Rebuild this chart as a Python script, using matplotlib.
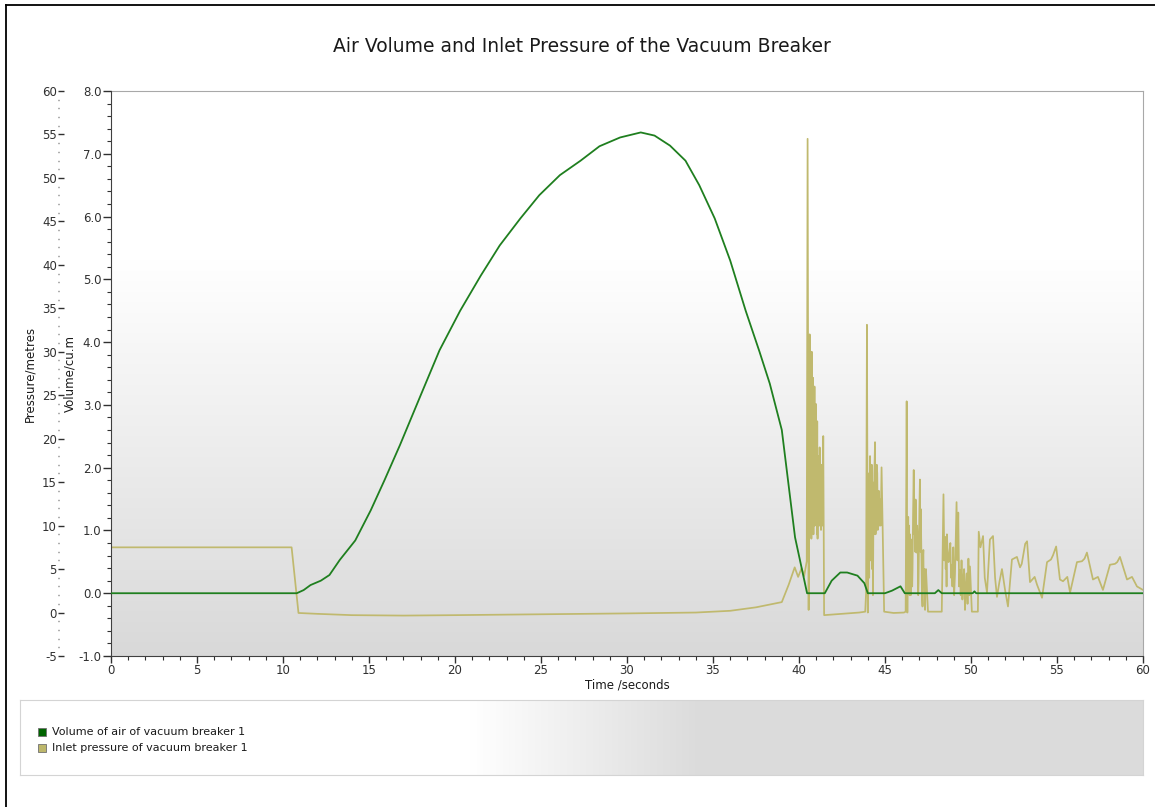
import numpy as np
import matplotlib
matplotlib.use("Agg")
import matplotlib.pyplot as plt
from matplotlib.lines import Line2D
from matplotlib.patches import Rectangle
from matplotlib.ticker import MultipleLocator, FormatStrFormatter

# volume of air (cu.m) over time (s)
vol_t = [0, 10.8, 11.2, 11.6, 12.2, 12.7, 13.3, 14.2, 15.1, 15.9, 16.8, 18.0, 19.1,
         20.3, 21.5, 22.6, 23.8, 24.9, 26.1, 27.3, 28.4, 29.6, 30.8, 31.6, 32.5,
         33.4, 34.2, 35.1, 36.0, 36.9, 37.7, 38.3, 39.0, 39.77, 40.47,
         41.5, 41.9, 42.4, 42.8, 43.4, 43.8, 44.0,
         45.0, 45.4, 45.9, 46.15, 47.9, 48.1, 48.3, 50.1, 50.2, 50.3, 60.0]
vol_v = [0, 0, 0.05, 0.13, 0.2, 0.29, 0.53, 0.84, 1.32, 1.8, 2.36, 3.15, 3.87,
         4.5, 5.06, 5.54, 5.97, 6.34, 6.66, 6.89, 7.12, 7.26, 7.34, 7.29, 7.13,
         6.89, 6.5, 5.97, 5.3, 4.5, 3.85, 3.34, 2.6, 0.89, 0,
         0, 0.2, 0.33, 0.33, 0.28, 0.16, 0,
         0, 0.04, 0.11, 0, 0, 0.05, 0, 0, 0.03, 0, 0]

# inlet pressure (m) over time (s)
pres_t = [0, 10.5, 10.9, 12, 14, 17, 20, 25, 30, 34, 36, 37.5, 38.5, 39.0,
          39.4, 39.75, 39.95, 40.15, 40.3, 40.45, 40.5, 40.56, 40.6, 40.62, 40.64,
          40.66, 40.68, 40.7, 40.72, 40.74, 40.76, 40.78, 40.8, 40.82, 40.84, 40.86,
          40.88, 40.9, 40.92, 40.94, 40.96, 40.98, 41.0, 41.02, 41.04, 41.06, 41.08,
          41.1, 41.13, 41.15, 41.18, 41.2, 41.23, 41.25, 41.28, 41.3, 41.33, 41.35,
          41.38, 41.41, 41.46, 42.5, 43.5, 43.85, 43.9, 43.95,
          44.0, 44.03, 44.05, 44.08, 44.1, 44.13, 44.15, 44.18, 44.2, 44.23, 44.25,
          44.28, 44.3, 44.33, 44.35, 44.38, 44.42, 44.45, 44.48, 44.52, 44.55,
          44.58, 44.6, 44.64, 44.68, 44.72, 44.75, 44.8, 44.88, 44.95, 45.5, 46.1,
          46.2, 46.26, 46.3, 46.33, 46.35, 46.38, 46.4, 46.43, 46.45, 46.48, 46.5,
          46.53, 46.55, 46.58, 46.6, 46.63, 46.67, 46.7, 46.72, 46.75, 46.78, 46.8,
          46.83, 46.87, 46.9, 46.93, 46.95, 47.0, 47.03, 47.06, 47.08, 47.1, 47.13,
          47.15, 47.18, 47.2, 47.23, 47.25, 47.28, 47.3, 47.33, 47.36, 47.38, 47.43,
          47.5, 48.3, 48.4, 48.45, 48.5, 48.53, 48.55, 48.58, 48.6, 48.65, 48.7,
          48.75, 48.8, 48.84, 48.87, 48.92, 48.97, 49.02, 49.07, 49.12, 49.16,
          49.21, 49.26, 49.31, 49.36, 49.4, 49.45, 49.5, 49.55, 49.6, 49.65, 49.7,
          49.75, 49.8, 49.85, 49.9, 49.94, 50.05,
          50.4, 50.45, 50.55, 50.7, 50.8, 50.93, 51.1, 51.28, 51.4, 51.51, 51.65,
          51.8, 51.98, 52.15, 52.38, 52.67, 52.85, 52.95, 53.15, 53.26, 53.43, 53.7,
          53.84, 54.13, 54.42, 54.65, 54.77, 54.95, 55.17, 55.35, 55.6, 55.76, 56.16,
          56.45, 56.6, 56.74, 57.09, 57.38, 57.67, 58.08, 58.37, 58.5, 58.66, 59.07,
          59.36, 59.65, 60.0]
pres_v = [7.5, 7.5, -0.05, -0.15, -0.3, -0.35, -0.3, -0.2, -0.1, 0.0, 0.2, 0.6, 1.0, 1.2,
          3.2, 5.2, 4.1, 5.1, 4.2, 5.9, 54.5, 0.3, 20, 32, 9,
          28, 12, 25, 8.5, 30, 10, 24, 14, 27, 9, 23,
          12, 26, 10, 21, 15, 24, 11, 19, 9, 22, 8.5,
          18, 11, 16, 10, 19, 12, 15, 9.5, 17, 11, 14,
          10, 20.3, -0.3, -0.15, 0.0, 0.1, 2.3, 33.1,
          0.0, 14, 16, 4, 12, 18, 6, 15, 8, 17, 5,
          15, 2, 12, 9, 16, 19.6, 9, 10, 17, 16,
          9.5, 12, 14, 10, 13, 10, 16.7, 8, 0.1, -0.05, 0.0,
          0.1, 24.3, 0.0, 9, 11, 3, 10, 2, 9, 4, 2,
          8, 8.4, 3, 5, 11, 16.4, 9, 12, 7, 13, 10,
          6.9, 10, 8.4, 2, 3.4, 12, 15.3, 7, 11.9, 9, 5.3,
          2, 0.7, 6, 7.2, 3, 5, 1, 0.3, 4, 5, 3,
          0.1, 0.1, 13.6, 6, 8.7, 5, 8, 3, 9, 6.5, 5.8,
          7, 8, 4, 5.5, 3, 7.5, 2, 4.5, 9, 12.7,
          6, 11.5, 3, 4.9, 2, 6, 1.5, 3.8, 5, 0.3, 3,
          4.5, 1, 6.2, 2, 5.3, 0.1,
          0.1, 9.3, 7.5, 8.8, 4, 2.3, 8.4, 8.8, 4, 1.8, 3.5,
          5.0, 2.6, 0.7, 6.1, 6.4, 5.2, 5.6, 7.9, 8.2, 3.5, 4.1,
          3.2, 1.7, 5.8, 6.1, 6.6, 7.6, 3.8, 3.6, 4.1, 2.3, 5.8,
          5.9, 6.2, 6.9, 3.8, 4.1, 2.6, 5.5, 5.6, 5.8, 6.4, 3.8,
          4.1, 3.0, 2.6]

vol_ticks = [-1.0, 0.0, 1.0, 2.0, 3.0, 4.0, 5.0, 6.0, 7.0, 8.0]
pres_ticks = [-5, 0, 5, 10, 15, 20, 25, 30, 35, 40, 45, 50, 55, 60]
time_ticks = [0, 5, 10, 15, 20, 25, 30, 35, 40, 45, 50, 55, 60]

W, H = 1155, 807
plt.rcParams['font.family'] = ['DejaVu Sans']
plt.rcParams['axes.unicode_minus'] = False
fig = plt.figure(figsize=(W / 100, H / 100), dpi=100)

def fx(px):
    return px / W

def fy(py):
    return 1 - py / H

# frame (left and top edges only visible)
fig.add_artist(Line2D([fx(6), fx(6)], [fy(5), 0], color='black', lw=1.3))
fig.add_artist(Line2D([fx(6), 1], [fy(5), fy(5)], color='black', lw=1.3))

fig.text(0.504, fy(46), 'Air Volume and Inlet Pressure of the Vacuum Breaker',
         ha='center', va='center', fontsize=13.5, color='#1a1a1a')

# plot area
L, R, T, B = 111, 1143, 91, 656
axp = fig.add_axes([fx(L), fy(B), (R - L) / W, (B - T) / H])
axv = axp.twinx()

# background gradient: white at top, grey at bottom
ys = np.linspace(0, 1, 300)
shade = np.where(ys < 0.30, 1.0, 1.0 - (ys - 0.30) / 0.70 * (1.0 - 0.85))
grad = np.repeat(shade[:, None], 2, axis=1)
axp.imshow(np.dstack([grad, grad, grad]), extent=[0, 60, -5, 60], aspect='auto',
           origin='upper', zorder=0)

axp.plot(pres_t, pres_v, color='#c0b96e', lw=1.25, zorder=2)
axv.plot(vol_t, vol_v, color='#1f7f1f', lw=1.3, zorder=3)

axp.set_xlim(0, 60)
axp.set_ylim(-5, 60)
axv.set_ylim(-1.0, 8.0)

# x axis
axp.set_xticks(time_ticks)
axp.xaxis.set_minor_locator(MultipleLocator(1))
axp.tick_params(axis='x', which='major', length=5, width=1, colors='#303030',
                labelsize=8.5, pad=1)
axp.tick_params(axis='x', which='minor', length=3, width=0.8, colors='#303030')
axp.set_xlabel('Time /seconds', fontsize=8.5, labelpad=1, color='#1a1a1a')

# pressure axis (outer, dotted minor ticks, no spine)
axp.spines['left'].set_position(('outward', 38))
axp.spines['left'].set_visible(False)
axp.set_yticks(pres_ticks)
axp.yaxis.set_minor_locator(MultipleLocator(1))
axp.tick_params(axis='y', which='major', direction='in', length=4, width=1,
                colors='#303030', labelsize=8.5, pad=1)
axp.tick_params(axis='y', which='minor', direction='in', length=1, width=1,
                colors='#606060')
axp.set_ylabel('Pressure/metres', fontsize=8.5, color='#1a1a1a')
axp.yaxis.set_label_coords(-0.0727, 0.5)

# volume axis (inner)
axv.yaxis.tick_left()
axv.yaxis.set_label_position('left')
axv.set_yticks(vol_ticks)
axv.yaxis.set_major_formatter(FormatStrFormatter('%.1f'))
axv.yaxis.set_minor_locator(MultipleLocator(0.2))
axv.tick_params(axis='y', which='major', length=6, width=1, colors='#303030',
                labelsize=8.5, pad=1)
axv.tick_params(axis='y', which='minor', length=3, width=0.8, colors='#303030')
axv.set_ylabel('Volume/cu.m', fontsize=8.5, color='#1a1a1a')
axv.yaxis.set_label_coords(-0.0339, 0.5)

for s in ['top', 'right']:
    axp.spines[s].set_color('#a8a8a8')
    axv.spines[s].set_visible(False)
axp.spines['bottom'].set_color('#404040')
axv.spines['bottom'].set_visible(False)
axv.spines['left'].set_visible(True)
axv.spines['left'].set_color('#404040')

# legend box with horizontal gradient
lg = fig.add_axes([fx(20), fy(775), (1143 - 20) / W, (775 - 700) / H])
xs = np.linspace(20, 1143, 600)
lshade = np.clip(1.0 - (xs - 470) / (700 - 470), 0, 1) * (1 - 0.86) + 0.86
lgrad = np.repeat(lshade[None, :], 2, axis=0)
lg.imshow(np.dstack([lgrad, lgrad, lgrad]), extent=[0, 1, 0, 1], aspect='auto')
lg.set_xlim(0, 1)
lg.set_ylim(0, 1)
lg.set_xticks([])
lg.set_yticks([])
for s in lg.spines.values():
    s.set_color('#d4d4d4')

legend_items = [('Volume of air of vacuum breaker 1', '#006400', 732),
                ('Inlet pressure of vacuum breaker 1', '#bdb76b', 748)]
for label, col, py in legend_items:
    fig.add_artist(Rectangle((fx(38), fy(py + 4)), 8 / W, 8 / H, transform=fig.transFigure,
                             facecolor=col, edgecolor='#707070', lw=0.6))
    fig.text(fx(52), fy(py), label, ha='left', va='center', fontsize=8, color='#1a1a1a')

fig.savefig('out.png', dpi=100)
